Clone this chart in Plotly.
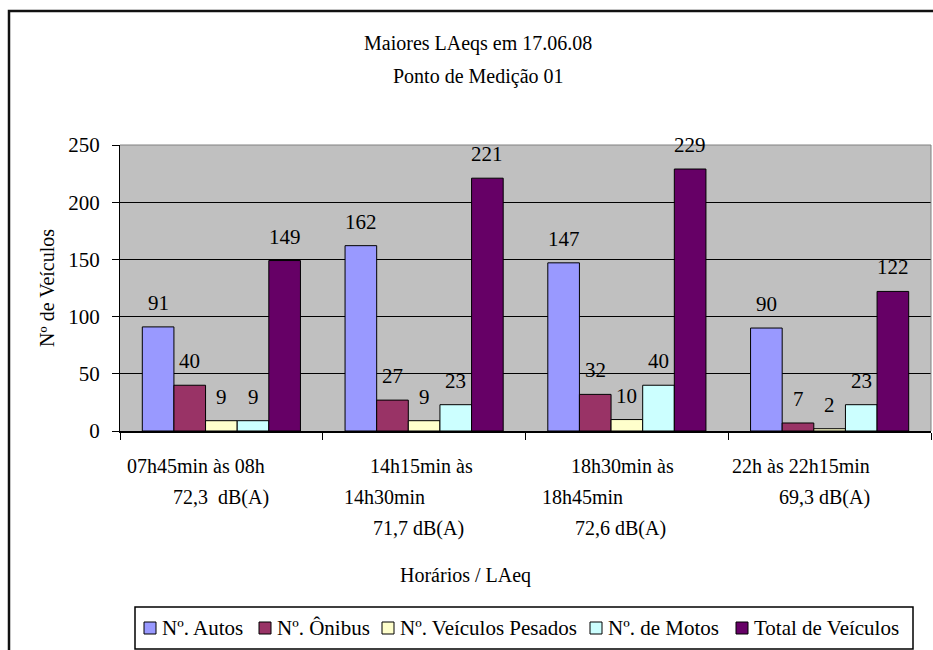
import plotly.graph_objects as go

# ---- data -------------------------------------------------------------
series_names = ["Nº. Autos", "Nº. Ônibus", "Nº. Veículos Pesados", "Nº. de Motos", "Total de Veículos"]
autos = [91, 162, 147, 90]
onibus = [40, 27, 32, 7]
pesados = [9, 9, 10, 2]
motos = [9, 23, 40, 23]
total = [149, 221, 229, 122]
series_values = [autos, onibus, pesados, motos, total]
series_colors = ["#9999FF", "#993366", "#FFFFCC", "#CCFFFF", "#660066"]

# category labels (time window + LAeq), already broken into lines
category_lines = [
    ["07h45min às 08h", "72,3  dB(A)"],
    ["14h15min às", "14h30min", "71,7 dB(A)"],
    ["18h30min às", "18h45min", "72,6 dB(A)"],
    ["22h às 22h15min", "69,3 dB(A)"],
]
y_ticks = [0, 50, 100, 150, 200, 250]

title_lines = ["Maiores LAeqs em 17.06.08", "Ponto de Medição 01"]
x_title = "Horários / LAeq"
y_title = "Nº de Veículos"

# ---- layout geometry (pixels) ----------------------------------------
W, H = 933, 650
L, R, T, B = 120, 2, 145, 219
PW, PH = W - L - R, H - T - B
FONT = "Liberation Serif"
FS = 20
BARGAP = 0.22


def px_x(px):
    return (px - L) / PW


def px_y(py):
    return (H - B - py) / PH


def txt_font(size=FS):
    return dict(family=FONT, size=size, color="black")


cats = list(range(len(category_lines)))
fig = go.Figure()
for name, vals, col in zip(series_names, series_values, series_colors):
    fig.add_trace(go.Bar(
        x=cats, y=vals, name=name, showlegend=False,
        marker=dict(color=col, line=dict(color="black", width=1)),
    ))

# value labels above each bar
n = len(series_names)
bw = (1 - BARGAP) / n
for i, vals in enumerate(series_values):
    for j, v in enumerate(vals):
        fig.add_annotation(
            x=j + (i - (n - 1) / 2) * bw, y=v, xref="x", yref="y",
            text=str(v), showarrow=False, yanchor="middle", yshift=24,
            font=txt_font(21),
        )

# category labels under the axis (centre offsets in px, row centres in px)
line_offsets = [[-25, 0], [-3, -40, -6], [-4, -44, -6], [-29, -5]]
row_y = [466, 497, 528]
for j, lines in enumerate(category_lines):
    for k, txt in enumerate(lines):
        fig.add_annotation(
            x=j, y=px_y(row_y[k]), xref="x", yref="paper",
            xshift=line_offsets[j][k], text=txt.replace("  ", " &nbsp;"),
            showarrow=False, xanchor="center", yanchor="middle",
            font=txt_font(),
        )

# titles
for k, txt in enumerate(title_lines):
    fig.add_annotation(
        x=px_x(478), y=px_y([43, 76][k]), xref="paper", yref="paper",
        text=txt, showarrow=False, xanchor="center", yanchor="middle",
        font=txt_font(),
    )
fig.add_annotation(
    x=px_x(465), y=px_y(575), xref="paper", yref="paper", text=x_title,
    showarrow=False, xanchor="center", yanchor="middle", font=txt_font(),
)
fig.add_annotation(
    x=px_x(47), y=px_y(288), xref="paper", yref="paper", text=y_title,
    showarrow=False, textangle=-90, xanchor="center", yanchor="middle",
    font=txt_font(),
)

# legend drawn as a framed row of swatches
legend_x = [144, 259, 382, 590, 736]
legend_cy = 628
fig.add_shape(type="rect", xref="paper", yref="paper",
              x0=px_x(135), x1=px_x(913), y0=px_y(649), y1=px_y(607),
              line=dict(color="black", width=1.5), fillcolor="white")
for name, col, lx in zip(series_names, series_colors, legend_x):
    fig.add_shape(type="rect", xref="paper", yref="paper",
                  x0=px_x(lx), x1=px_x(lx + 12),
                  y0=px_y(legend_cy + 6), y1=px_y(legend_cy - 6),
                  line=dict(color="black", width=1), fillcolor=col)
    fig.add_annotation(
        x=px_x(lx + 16), y=px_y(legend_cy), xref="paper", yref="paper",
        text=name, showarrow=False, xanchor="left", yanchor="middle",
        font=txt_font(21),
    )

# plot-area frame (top and right) and outer chart border
fig.add_shape(type="line", xref="paper", yref="paper", x0=0, x1=1, y0=1, y1=1,
              line=dict(color="#808080", width=1))
fig.add_shape(type="line", xref="paper", yref="paper", x0=1, x1=1, y0=0, y1=1,
              line=dict(color="#808080", width=1))
fig.add_shape(type="rect", xref="paper", yref="paper",
              x0=px_x(9), x1=px_x(950), y0=px_y(670), y1=px_y(11),
              line=dict(color="#111111", width=2.5))

fig.update_layout(
    width=W, height=H,
    margin=dict(l=L, r=R, t=T, b=B, pad=0),
    paper_bgcolor="white", plot_bgcolor="#C0C0C0",
    barmode="group", bargap=BARGAP, bargroupgap=0,
    font=txt_font(),
    showlegend=False,
    xaxis=dict(
        range=[-0.5, len(cats) - 0.5], tickvals=[c - 0.5 for c in range(len(cats) + 1)],
        ticktext=[""] * (len(cats) + 1), ticks="outside", ticklen=7, tickcolor="black",
        tickwidth=1, showline=True, linecolor="black", linewidth=1.5,
        showgrid=False, zeroline=False, fixedrange=True,
    ),
    yaxis=dict(
        range=[0, 250], tickvals=y_ticks, ticks="outside", ticklen=7, tickcolor="black",
        tickwidth=1, showline=True, linecolor="black", linewidth=1,
        showgrid=True, gridcolor="black", gridwidth=1, zeroline=False,
        tickfont=txt_font(21), ticklabelstandoff=8,
        fixedrange=True,
    ),
)

fig.write_html("out.html")
